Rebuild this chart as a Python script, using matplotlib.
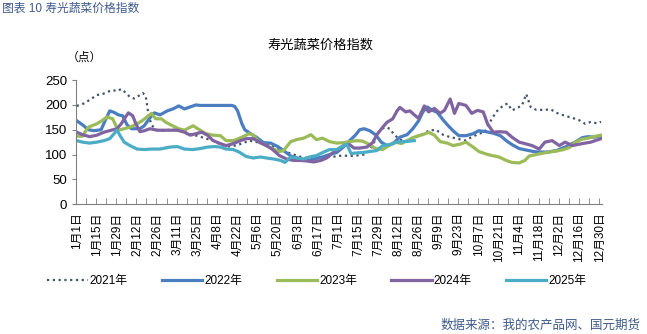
import matplotlib
matplotlib.use("Agg")
import matplotlib.pyplot as plt

plt.rcParams['font.family'] = ['Liberation Sans', 'Noto Sans CJK SC', 'DejaVu Sans']

# day index (0 = 1月1日) and index values
d2021 = [0, 5, 10, 14, 18, 21, 25, 28, 31, 34, 37, 40, 43, 46, 48, 50, 52, 55, 60, 65,
         70, 75, 80, 85, 90, 95, 100, 105, 110, 115, 120, 125, 130, 135, 140, 145, 150,
         155, 160, 165, 170, 175, 180, 185, 190, 195, 200, 204, 208, 211, 215, 218, 221,
         225, 230, 235, 240, 245, 250, 255, 260, 265, 270, 275, 280, 284, 287, 292, 297,
         300, 303, 306, 310, 313, 316, 320, 325, 330, 335, 340, 345, 350, 354, 358, 362, 365]
v2021 = [198, 203, 212, 220, 222, 226, 230, 228, 232, 225, 216, 213, 218, 224, 218, 180,
         160, 150, 148, 150, 150, 146, 140, 137, 132, 128, 120, 116, 118, 122, 128, 125,
         125, 118, 112, 106, 101, 96, 93, 91, 93, 95, 96, 98, 97, 98, 100, 108, 130, 150,
         155, 152, 140, 130, 126, 133, 140, 148, 150, 140, 135, 132, 128, 135, 142, 145,
         162, 186, 199, 203, 189, 193, 199, 222, 196, 190, 190, 191, 183, 178, 174, 169,
         162, 166, 163, 166]

d2022 = [0, 4, 8, 12, 17, 20, 23, 26, 29, 32, 35, 38, 44, 47, 51, 54, 58, 63, 67, 71, 75,
         79, 83, 86, 90, 100, 108, 110, 112, 115, 117, 121, 125, 130, 135, 140, 144, 149,
         153, 157, 162, 166, 171, 176, 181, 186, 190, 194, 197, 200, 204, 208, 212, 216,
         220, 225, 230, 234, 238, 241, 244, 247, 251, 255, 258, 262, 266, 271, 276, 280,
         285, 290, 295, 299, 303, 308, 313, 318, 322, 328, 334, 340, 347, 352, 356, 360, 365]
v2022 = [168, 160, 150, 148, 150, 170, 188, 185, 180, 178, 160, 152, 152, 158, 174, 184,
         180, 188, 192, 198, 192, 196, 200, 199, 199, 199, 199, 197, 188, 162, 150, 142,
         135, 124, 123, 116, 108, 97, 93, 90, 88, 92, 95, 100, 104, 116, 128, 139, 150,
         152, 148, 140, 125, 118, 122, 135, 140, 152, 168, 186, 196, 190, 185, 170, 160,
         148, 138, 138, 142, 148, 146, 143, 138, 128, 120, 112, 109, 106, 105, 105, 108,
         115, 125, 134, 136, 135, 138]

d2023 = [0, 4, 8, 14, 18, 21, 25, 27, 29, 33, 37, 42, 46, 49, 52, 55, 59, 62, 66, 71, 75,
         81, 86, 90, 95, 100, 104, 109, 115, 120, 123, 127, 132, 137, 141, 144, 149, 153,
         158, 163, 167, 171, 176, 181, 186, 190, 195, 199, 204, 208, 213, 218, 222, 226,
         230, 234, 238, 241, 245, 249, 253, 258, 262, 267, 271, 276, 280, 285, 289, 294,
         299, 303, 308, 312, 315, 320, 325, 329, 334, 339, 343, 347, 352, 356, 360, 365]
v2023 = [137, 137, 155, 162, 169, 176, 172, 160, 149, 152, 155, 162, 169, 176, 183, 172,
         172, 165, 159, 152, 149, 158, 149, 142, 139, 138, 128, 128, 135, 142, 139, 125,
         118, 111, 106, 108, 126, 130, 133, 140, 130, 133, 126, 123, 124, 126, 128, 127,
         120, 112, 110, 119, 125, 122, 128, 134, 138, 140, 145, 139, 126, 123, 118, 121,
         125, 115, 106, 101, 98, 95, 88, 84, 83, 88, 97, 100, 103, 105, 107, 110, 114,
         125, 131, 133, 136, 139]

d2024 = [0, 4, 9, 14, 19, 24, 28, 31, 34, 36, 39, 41, 44, 47, 51, 56, 61, 66, 70, 75, 79,
         83, 87, 91, 95, 100, 104, 109, 114, 118, 123, 127, 132, 136, 141, 146, 151, 156,
         160, 165, 170, 174, 179, 183, 186, 190, 193, 197, 202, 206, 209, 213, 216, 220,
         223, 225, 229, 232, 235, 238, 242, 245, 249, 253, 256, 260, 263, 266, 271, 275,
         279, 283, 286, 290, 294, 299, 303, 308, 312, 317, 322, 326, 331, 336, 340, 345,
         352, 358, 365]
v2024 = [145, 140, 136, 139, 145, 149, 152, 162, 176, 184, 178, 163, 146, 148, 152, 149,
         149, 149, 149, 145, 139, 142, 145, 139, 128, 122, 118, 122, 128, 132, 132, 125,
         118, 111, 98, 91, 88, 88, 87, 85, 88, 93, 105, 113, 118, 120, 113, 113, 115, 124,
         140, 155, 165, 172, 188, 195, 186, 188, 180, 173, 198, 186, 193, 183, 189, 212,
         183, 203, 199, 183, 189, 186, 162, 145, 146, 145, 135, 125, 122, 118, 111, 125,
         128, 118, 125, 118, 122, 125, 132]

d2025 = [0, 4, 9, 14, 19, 23, 26, 28, 30, 33, 37, 42, 47, 52, 58, 65, 70, 75, 81, 86, 91,
         96, 100, 104, 109, 113, 118, 123, 128, 132, 137, 142, 145, 149, 153, 158, 162,
         167, 172, 176, 181, 186, 188, 191, 194, 199, 204, 209, 213, 218, 223, 227, 232, 235]
v2025 = [128, 125, 123, 125, 128, 132, 142, 149, 139, 125, 118, 111, 110, 111, 111, 115,
         116, 111, 110, 112, 115, 116, 115, 111, 110, 105, 96, 93, 95, 93, 91, 88, 84, 95,
         93, 91, 95, 98, 105, 110, 110, 118, 121, 102, 103, 104, 106, 108, 118, 120, 125,
         126, 127, 128]

tick_days = list(range(0, 365, 14))
tick_labels = ["1月1日", "1月15日", "1月29日", "2月12日", "2月26日", "3月11日", "3月25日",
               "4月8日", "4月22日", "5月6日", "5月20日", "6月3日", "6月17日", "7月1日",
               "7月15日", "7月29日", "8月12日", "8月26日", "9月9日", "9月23日", "10月7日",
               "10月21日", "11月4日", "11月18日", "12月2日", "12月16日", "12月30日"]

fig = plt.figure(figsize=(6.47, 3.34), dpi=100)
ax = fig.add_axes([0.1175, 0.389, 0.8125, 0.371])

ax.plot(d2021, v2021, color="#44546A", lw=1.6, linestyle=(0, (1, 1.6)), label="2021年")
ax.plot(d2022, v2022, color="#4A7EC0", lw=2.3, label="2022年")
ax.plot(d2023, v2023, color="#9BBB59", lw=2.3, label="2023年")
ax.plot(d2024, v2024, color="#8064A2", lw=2.3, label="2024年")
ax.plot(d2025, v2025, color="#4BACC6", lw=2.3, label="2025年")

ax.set_xlim(-0.5, 365.5)
ax.set_ylim(0, 250)
ax.set_yticks(range(0, 251, 50))
ax.set_xticks(tick_days)
ax.set_xticklabels(tick_labels, rotation=90, fontsize=8.5)
ax.set_xticks([d - 0.5 for d in range(0, 366, 7)], minor=True)
ax.tick_params(axis='x', which='major', length=0, pad=6)
ax.tick_params(axis='x', which='minor', direction='in', length=4, color="#808080")
ax.tick_params(axis='y', direction='out', length=3, color="#808080", labelsize=9.5)
for s in ["top", "right"]:
    ax.spines[s].set_visible(False)
for s in ["left", "bottom"]:
    ax.spines[s].set_color("#808080")

fig.text(0.495, 0.865, "寿光蔬菜价格指数", ha="center", va="center", fontsize=9.5)
fig.text(0.103, 0.826, "（点）", ha="left", va="center", fontsize=8.5)
fig.text(0.003, 0.975, "图表 10 寿光蔬菜价格指数", ha="left", va="center",
         fontsize=8.5, color="#3F5A8A")
fig.text(0.99, 0.025, "数据来源：我的农产品网、国元期货", ha="right", va="center",
         fontsize=9, color="#3F5A8A")

fig.legend(loc="center", bbox_to_anchor=(0.49, 0.158), ncol=5, frameon=False,
           fontsize=8.5, handlelength=3.4, columnspacing=2.9, handletextpad=0.2)

fig.savefig("out.png", dpi=100)
